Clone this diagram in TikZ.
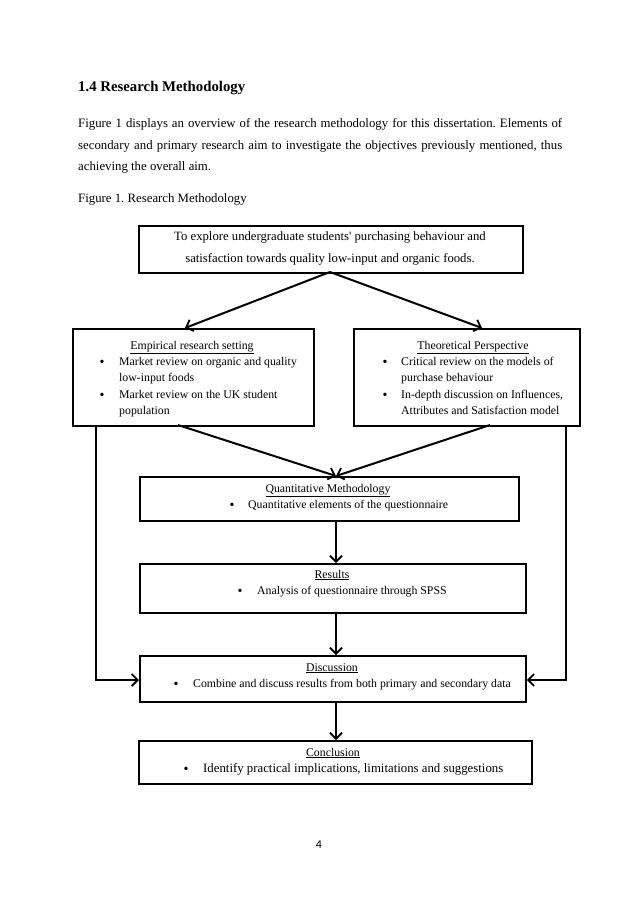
\documentclass[tikz,border=0pt]{standalone}
\usepackage{fontspec}
\setmainfont{Liberation Serif}
\newfontfamily\pagenumfont{Carlito}
\usetikzlibrary{arrows.meta}
\frenchspacing
\begin{document}
\begin{tikzpicture}[x=1pt,y=-1pt,
  box/.style={draw, line width=1.8pt, inner sep=0pt, anchor=north west},
  arr/.style={line width=2pt, -{Straight Barb[length=6pt,width=12pt,line width=1.8pt]}},
  body/.style={inner sep=0pt, anchor=base west, font=\fontsize{12.8}{15}\selectfont},
  txt/.style={inner sep=0pt, anchor=base west, font=\fontsize{11.8}{13}\selectfont},
  ttl/.style={inner sep=0pt, anchor=base, font=\fontsize{11.8}{13}\selectfont},
  bul/.style={inner sep=0pt, anchor=base, font=\fontsize{14}{14}\selectfont}]
\fill[white] (0,0) rectangle (638,903);
\useasboundingbox (0,0) rectangle (638,903);

% page text
\node[body, font=\fontsize{14.8}{17}\selectfont\bfseries] (head) at (78,91) {1.4 Research Methodology};
\node[body] (p1) at (78,127) {\makebox[484pt][s]{Figure 1 displays an overview of the research methodology for this dissertation. Elements of}};
\node[body] (p2) at (78,149) {\makebox[484pt][s]{secondary and primary research aim to investigate the objectives previously mentioned, thus}};
\node[body] (p3) at (78,170) {achieving the overall aim.};
\node[body] (cap) at (78,202) {Figure 1. Research Methodology};

% boxes
\node[box, minimum width=384pt, minimum height=47pt] (top) at (138,225) {};
\node[box, minimum width=241pt, minimum height=97pt] (emp) at (72,328) {};
\node[box, minimum width=226pt, minimum height=97pt] (theo) at (353,328) {};
\node[box, minimum width=379pt, minimum height=44pt] (quant) at (139,476) {};
\node[box, minimum width=386pt, minimum height=49pt] (res) at (139,563) {};
\node[box, minimum width=386pt, minimum height=46pt] (disc) at (139,655) {};
\node[box, minimum width=393pt, minimum height=43pt] (conc) at (138,740) {};

% top box text
\node[ttl, font=\fontsize{12.7}{14}\selectfont] (t1) at (330,240) {To explore undergraduate students\textquotesingle\ purchasing behaviour and};
\node[ttl, font=\fontsize{12.7}{14}\selectfont] (t2) at (330,262) {satisfaction towards quality low-input and organic foods.};

% empirical
\node[ttl] (e0) at (192,349) {\underline{Empirical research setting}};
\node[bul] (eb1) at (102,366) {\textbullet};
\node[txt] (e1) at (119,365) {Market review on organic and quality};
\node[txt] (e2) at (119,381) {low-input foods};
\node[bul] (eb2) at (102,399) {\textbullet};
\node[txt] (e3) at (119,398) {Market review on the UK student};
\node[txt] (e4) at (119,414) {population};

% theoretical
\node[ttl] (h0) at (473,349) {\underline{Theoretical Perspective}};
\node[bul] (hb1) at (385,366) {\textbullet};
\node[txt] (h1) at (401,365) {Critical review on the models of};
\node[txt] (h2) at (401,381) {purchase behaviour};
\node[bul] (hb2) at (385,399) {\textbullet};
\node[txt] (h3) at (401,398) {In-depth discussion on Influences,};
\node[txt] (h4) at (401,414) {Attributes and Satisfaction model};

% quantitative
\node[ttl] (q0) at (328,492) {\underline{Quantitative Methodology}};
\node[bul] (qb) at (232,509) {\textbullet};
\node[txt] (q1) at (248,508) {Quantitative elements of the questionnaire};

% results
\node[ttl] (r0) at (332,578) {\underline{Results}};
\node[bul] (rb) at (240,595) {\textbullet};
\node[txt] (r1) at (257,594) {Analysis of questionnaire through SPSS};

% discussion
\node[ttl] (d0) at (332,671) {\underline{Discussion}};
\node[bul] (db) at (176,688) {\textbullet};
\node[txt] (d1) at (193,687) {Combine and discuss results from both primary and secondary data};

% conclusion
\node[ttl] (c0) at (333,756) {\underline{Conclusion}};
\node[bul] (cb) at (186,773) {\textbullet};
\node[txt, font=\fontsize{12.8}{14}\selectfont] (c1) at (203,772) {Identify practical implications, limitations and suggestions};

% page number
\node[inner sep=0pt, anchor=base, font=\pagenumfont\fontsize{12}{14}\selectfont] (pn) at (319,848) {4};

% connectors
\coordinate (topb) at (330,272);
\draw[arr] (topb) -- (emp.north west -| 185,0);
\draw[arr] (topb) -- (theo.north west -| 482,0);
\coordinate (empb) at (178,425);
\coordinate (theob) at (490,425);
\coordinate (qt) at (336,476);
\draw[arr] (empb) -- (qt);
\draw[arr] (theob) -- (qt);
\draw[arr] (quant.south -| 336,0) -- (res.north -| 336,0);
\draw[arr] (res.south -| 336,0) -- (disc.north -| 336,0);
\draw[arr] (disc.south -| 336,0) -- (conc.north -| 336,0);
\draw[arr] (emp.south -| 96,0) |- (disc.west |- 0,680);
\draw[arr] (theo.south -| 566,0) |- (disc.east |- 0,680);
\end{tikzpicture}
\end{document}
